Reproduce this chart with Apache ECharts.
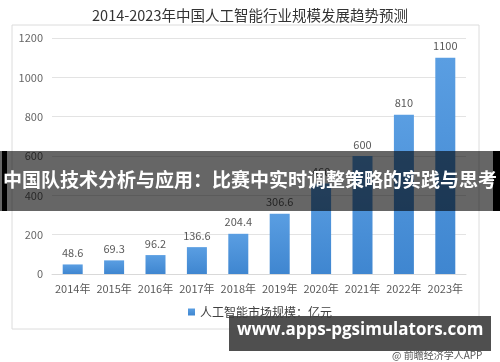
<!DOCTYPE html>
<html>
<head>
<meta charset="utf-8">
<script src="https://cdn.jsdelivr.net/npm/echarts@6/dist/echarts.min.js"></script>
<style>
html,body{margin:0;padding:0;background:#fff;}
#c{width:500px;height:362px;}
</style>
</head>
<body>
<div id="c"></div>
<script>
var categories = ['2014年','2015年','2016年','2017年','2018年','2019年','2020年','2021年','2022年','2023年'];
var marketSize = [48.6, 69.3, 96.2, 136.6, 204.4, 306.6, 460, 600, 810, 1100];
var yTicks = [0, 200, 400, 600, 800, 1000, 1200];
var seriesName = '人工智能市场规模：亿元';
var titleText = '2014-2023年中国人工智能行业规模发展趋势预测';
var bannerText = '中国队技术分析与应用：比赛中实时调整策略的实践与思考';
var siteText = 'www.apps-pgsimulators.com';
var sourceText = '@ 前瞻经济学人APP';

var font = '"Noto Sans CJK SC", "Noto Sans", sans-serif';
var chart = echarts.init(document.getElementById('c'), null, {renderer: 'canvas'});
chart.setOption({
  backgroundColor: '#fff',
  animation: false,
  title: {
    text: titleText, left: 'center', top: 3,
    textStyle: {fontFamily: font, fontSize: 14.5, fontWeight: 'normal', color: '#333'}
  },
  grid: {left: 52, right: 34, top: 38, bottom: 88},
  legend: {
    data: [seriesName], left: 183, top: 301, icon: 'rect', itemWidth: 7, itemHeight: 7, itemGap: 4,
    textStyle: {fontFamily: font, fontSize: 12, color: '#404040'}
  },
  xAxis: {
    type: 'category', data: categories,
    axisLine: {lineStyle: {color: '#d9d9d9'}}, axisTick: {show: false},
    axisLabel: {interval: 0, fontFamily: font, fontSize: 11, color: '#595959', margin: 9}
  },
  yAxis: {
    type: 'value', min: yTicks[0], max: yTicks[yTicks.length-1], interval: 200,
    axisLine: {show: false}, axisTick: {show: false},
    splitLine: {lineStyle: {color: '#e3e3e3'}},
    axisLabel: {formatter: function(v){return String(v);}, fontFamily: font, fontSize: 11, color: '#666', margin: 9}
  },
  series: [{
    name: seriesName, type: 'bar', data: marketSize, barWidth: 20,
    itemStyle: {color: new echarts.graphic.LinearGradient(0,0,0,1,[{offset:0,color:'#5a9ee2'},{offset:1,color:'#3f86d0'}])},
    label: {show: true, position: 'top', distance: 6, fontFamily: font, fontSize: 11, color: '#595959'}
  }],
  color: ['#4a90d9'],
  graphic: [
    {type: 'rect', shape: {x: 12, y: 25, width: 467, height: 304}, style: {fill: 'none', stroke: '#dcdcdc', lineWidth: 1}, z: -1},
    {type: 'rect', shape: {x: 0, y: 151, width: 500, height: 60}, style: {fill: 'rgba(0,0,0,0.6)'}, z: 100},
    {type: 'rect', shape: {x: 2, y: 151, width: 5, height: 60}, style: {fill: '#000'}, z: 101},
    {type: 'rect', shape: {x: 493, y: 151, width: 7, height: 60}, style: {fill: '#000'}, z: 101},
    {type: 'text', left: 'center', top: 170, style: {text: bannerText, fill: '#fff', font: 'bold 19px "Noto Sans CJK SC", sans-serif'}, z: 102},
    {type: 'rect', shape: {x: 229, y: 316, width: 262, height: 35}, style: {fill: 'rgba(60,60,60,0.9)'}, z: 100},
    {type: 'text', x: 237, y: 322, style: {text: siteText, fill: '#fff', font: 'bold 17px "Open Sans", sans-serif'}, z: 102},
    {type: 'text', x: 392, y: 350, style: {text: sourceText, fill: '#555', font: '10px "Noto Sans CJK SC", sans-serif'}, z: 102}
  ]
});
</script>
</body>
</html>
